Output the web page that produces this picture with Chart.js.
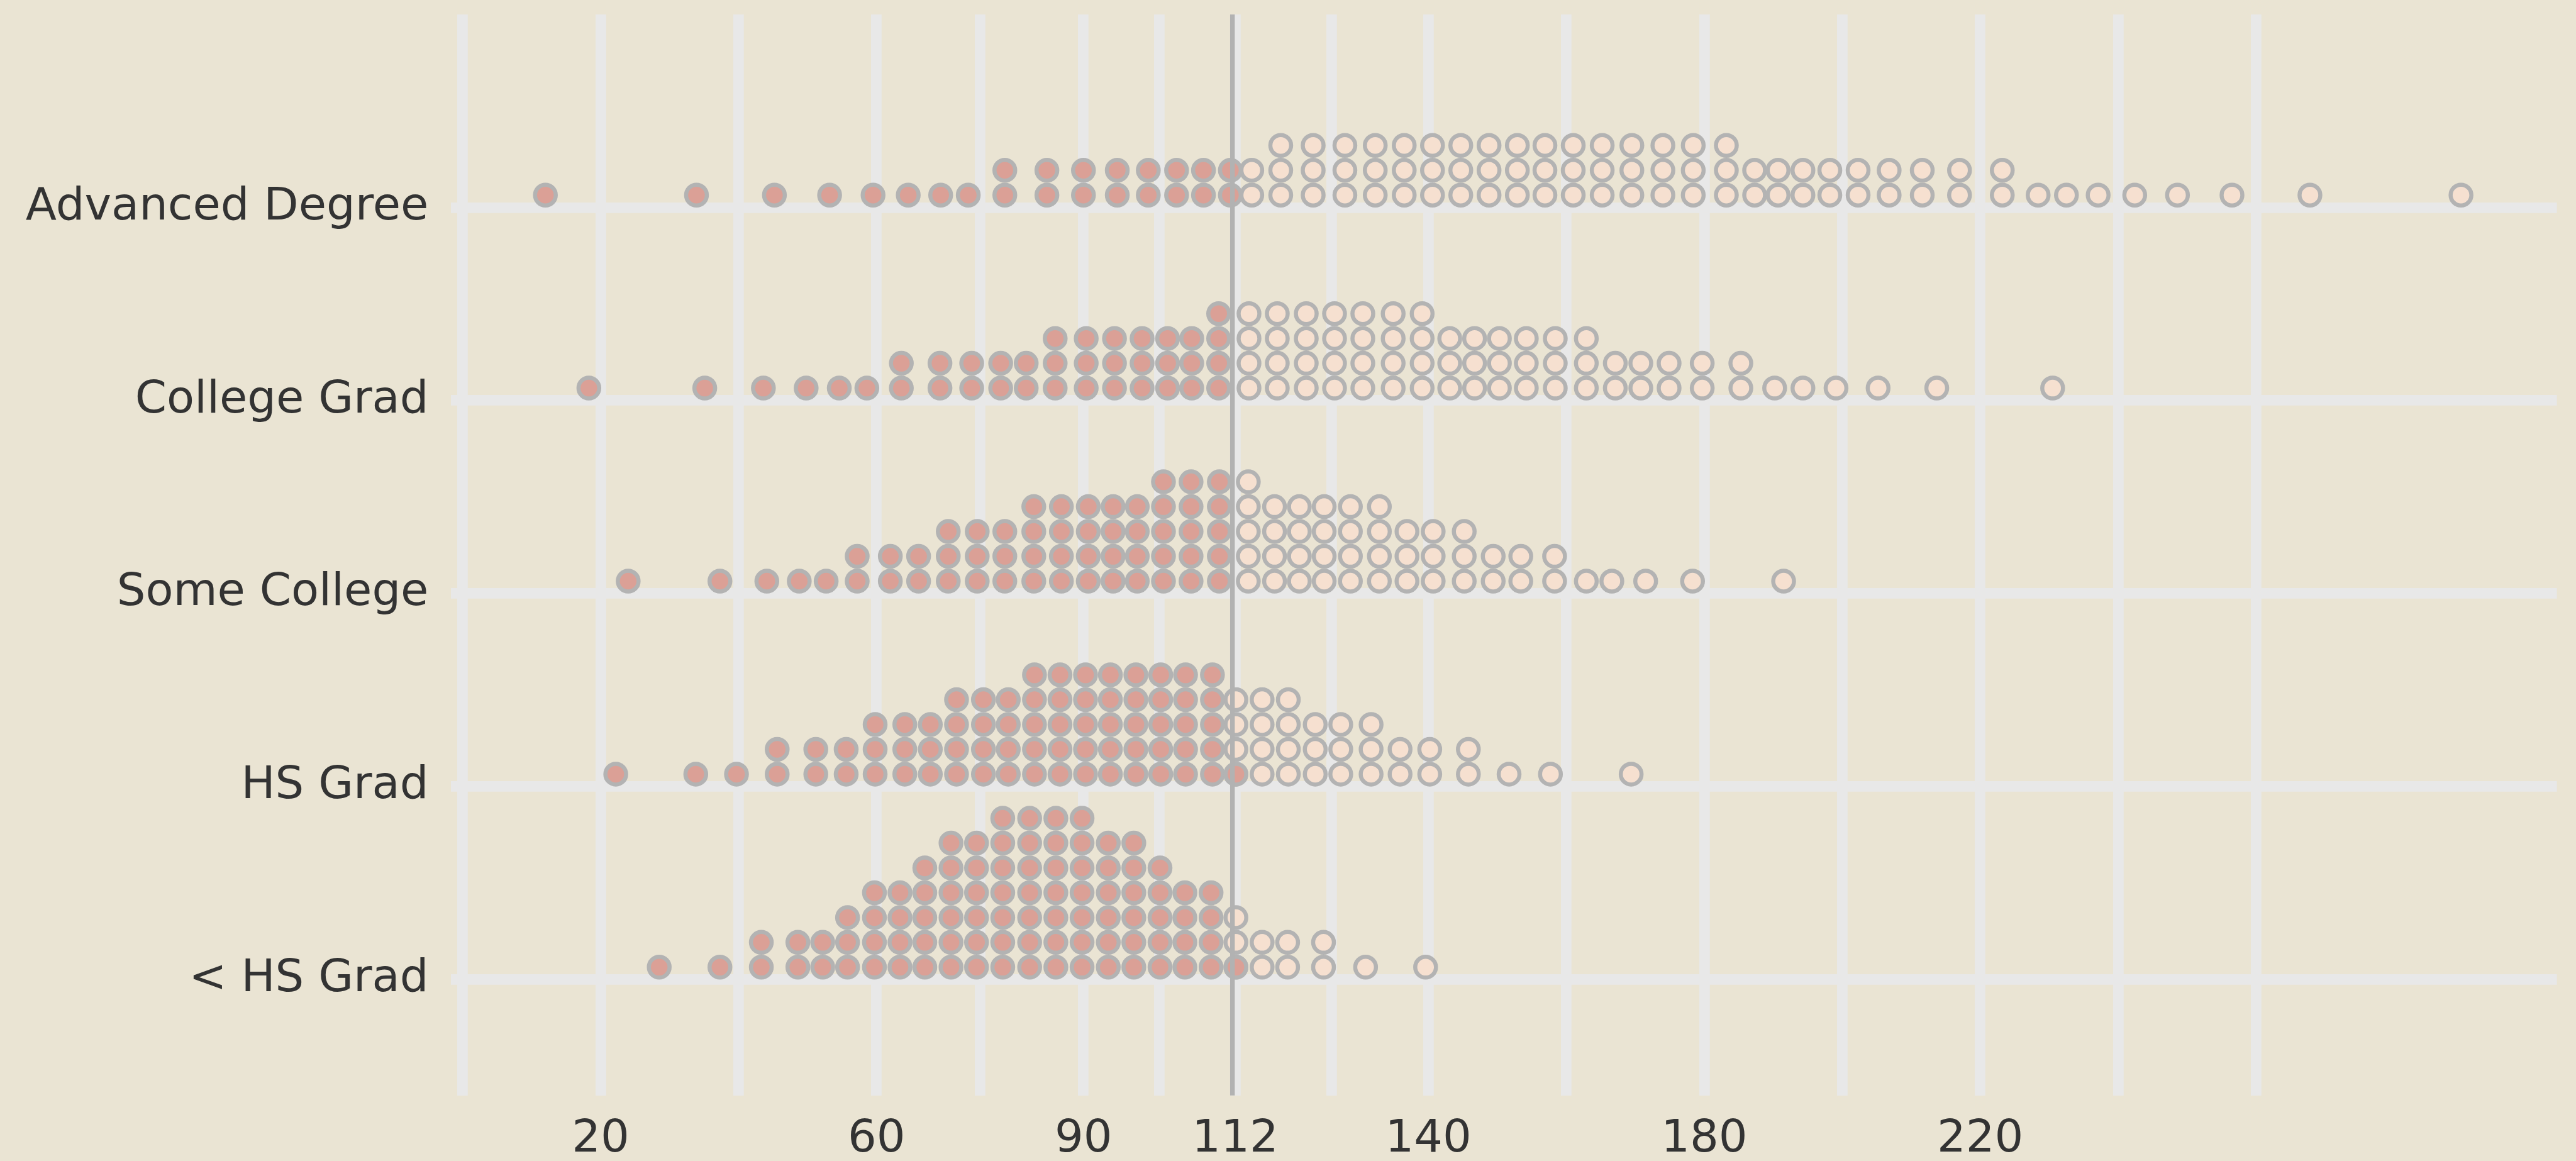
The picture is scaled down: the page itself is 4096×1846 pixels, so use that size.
<!DOCTYPE html>
<html lang="en">
<head>
    <meta charset="UTF-8">
    <title>Dot Plot by Education</title>
    <script src="https://cdn.jsdelivr.net/npm/chart.js"></script>
    <style>
        html, body { margin: 0; padding: 0; background: #EAE4D3; }
        canvas { display: block; }
    </style>
</head>
<body>
    <canvas id="dotChart" width="4096" height="1846"></canvas>

    <script>
        // Categories, bottom to top
        const categories = ['< HS Grad', 'HS Grad', 'Some College', 'College Grad', 'Advanced Degree'];

        // x axis: labelled breaks and the extra (minor) grid lines
        const xLabels = [20, 60, 90, 112, 140, 180, 220];
        const xMinor = [0, 40, 75, 101, 126, 160, 200, 240, 260];
        const cutoff = 111.6;

        // Dot stacks: bin centre (x) and number of stacked dots (n)
        // "low" = below the cutoff (salmon), "high" = above (light)
        const lessHsLowX = [28.5, 37.3, 43.3, 48.6, 52.2, 55.8, 59.7, 63.4, 67.0, 70.8, 74.5, 78.3, 82.2, 86.0, 89.8, 93.6, 97.3, 101.1, 104.7, 108.5, 112.1];
        const lessHsLowN = [1, 1, 2, 2, 2, 3, 4, 4, 5, 6, 6, 7, 7, 7, 7, 6, 6, 5, 4, 4, 1];
        const lessHsHighX = [112.1, 115.9, 119.6, 124.8, 130.9, 139.6];
        const lessHsHighN = [3, 2, 2, 2, 1, 1];

        const hsLowX = [22.2, 33.8, 39.7, 45.6, 51.2, 55.6, 59.8, 64.1, 67.8, 71.6, 75.5, 79.1, 82.9, 86.6, 90.3, 93.9, 97.6, 101.2, 104.8, 108.7, 112.1];
        const hsLowN = [1, 1, 1, 2, 2, 2, 3, 3, 3, 4, 4, 4, 5, 5, 5, 5, 5, 5, 5, 5, 1];
        const hsHighX = [112.1, 115.9, 119.7, 123.6, 127.3, 131.7, 135.9, 140.2, 145.8, 151.7, 157.7, 169.4];
        const hsHighN = [4, 4, 4, 3, 3, 3, 2, 2, 2, 1, 1, 1];

        const someLowX = [24.0, 37.3, 44.1, 48.8, 52.7, 57.2, 62.0, 66.1, 70.4, 74.6, 78.6, 82.8, 86.8, 90.7, 94.3, 97.8, 101.6, 105.6, 109.7];
        const someLowN = [1, 1, 1, 1, 1, 2, 2, 2, 3, 3, 3, 4, 4, 4, 4, 4, 5, 5, 5];
        const someHighX = [113.9, 117.7, 121.3, 124.9, 128.7, 132.9, 136.9, 140.7, 145.2, 149.4, 153.4, 158.3, 162.9, 166.6, 171.5, 178.3, 191.5];
        const someHighN = [5, 4, 4, 4, 4, 4, 3, 3, 3, 2, 2, 2, 1, 1, 1, 1, 1];

        const collegeLowX = [18.3, 35.1, 43.6, 49.8, 54.6, 58.6, 63.6, 69.2, 73.8, 78.0, 81.7, 85.9, 90.4, 94.5, 98.5, 102.2, 105.7, 109.6];
        const collegeLowN = [1, 1, 1, 1, 1, 1, 2, 2, 2, 2, 2, 3, 3, 3, 3, 3, 3, 4];
        const collegeHighX = [114.0, 118.1, 122.3, 126.4, 130.5, 134.9, 139.1, 143.1, 146.7, 150.3, 154.2, 158.4, 162.9, 167.1, 170.8, 174.9, 179.7, 185.3, 190.2, 194.3, 199.1, 205.2, 213.7, 230.5];
        const collegeHighN = [4, 4, 4, 4, 4, 4, 4, 3, 3, 3, 3, 3, 3, 2, 2, 2, 2, 2, 1, 1, 1, 1, 1, 1];

        const advLowX = [12.0, 33.9, 45.2, 53.2, 59.5, 64.6, 69.3, 73.3, 78.6, 84.7, 90.0, 94.9, 99.4, 103.5, 107.4, 111.3];
        const advLowN = [1, 1, 1, 1, 1, 1, 1, 1, 2, 2, 2, 2, 2, 2, 2, 2];
        const advHighX = [114.4, 118.6, 123.3, 127.9, 132.3, 136.5, 140.6, 144.7, 148.8, 152.9, 156.9, 161.0, 165.2, 169.5, 174.0, 178.4, 183.2, 187.3, 190.7, 194.3, 198.2, 202.3, 206.8, 211.6, 217.0, 223.2, 228.4, 232.5, 237.1, 242.4, 248.6, 256.5, 267.8, 289.7];
        const advHighN = [2, 3, 3, 3, 3, 3, 3, 3, 3, 3, 3, 3, 3, 3, 3, 3, 3, 2, 2, 2, 2, 2, 2, 2, 2, 2, 1, 1, 1, 1, 1, 1, 1, 1];

        // vertical step between stacked dots, in category units
        const stackStep = 0.1286;

        // turn (x, n) stacks into points: one point per dot
        function stackPoints(level, xs, ns) {
            const pts = [];
            xs.forEach((x, i) => {
                for (let k = 0; k < ns[i]; k++) {
                    pts.push({ x: x, y: level + (k + 0.5) * stackStep });
                }
            });
            return pts;
        }

        const lowGroups = [[lessHsLowX, lessHsLowN], [hsLowX, hsLowN], [someLowX, someLowN], [collegeLowX, collegeLowN], [advLowX, advLowN]];
        const highGroups = [[lessHsHighX, lessHsHighN], [hsHighX, hsHighN], [someHighX, someHighN], [collegeHighX, collegeHighN], [advHighX, advHighN]];

        const lowPoints = lowGroups.flatMap((g, i) => stackPoints(i + 1, g[0], g[1]));
        const highPoints = highGroups.flatMap((g, i) => stackPoints(i + 1, g[0], g[1]));

        const gridColor = '#E8E8E8';
        const textColor = '#333333';
        const labelFont = { family: 'DejaVu Sans', size: 72 };

        // reference line drawn above the dots
        const cutoffLine = {
            id: 'cutoffLine',
            afterDatasetsDraw(chart) {
                const { ctx, chartArea, scales } = chart;
                const px = scales.x.getPixelForValue(cutoff);
                ctx.save();
                ctx.strokeStyle = '#B2B2B2';
                ctx.lineWidth = 7.4;
                ctx.beginPath();
                ctx.moveTo(px, chartArea.top);
                ctx.lineTo(px, chartArea.bottom);
                ctx.stroke();
                ctx.restore();
            }
        };

        const ctx = document.getElementById('dotChart').getContext('2d');

        new Chart(ctx, {
            type: 'scatter',
            data: {
                datasets: [
                    {
                        label: 'below',
                        data: lowPoints,
                        backgroundColor: '#DBA096',
                        borderColor: '#B3B3B3',
                        borderWidth: 6.5,
                        pointRadius: 16.5
                    },
                    {
                        label: 'above',
                        data: highPoints,
                        backgroundColor: '#F6E0D0',
                        borderColor: '#B3B3B3',
                        borderWidth: 6.5,
                        pointRadius: 16.5
                    }
                ]
            },
            options: {
                responsive: false,
                animation: false,
                devicePixelRatio: 1,
                layout: { padding: { top: 15.5, right: 30.4, left: 0, bottom: 0 } },
                plugins: {
                    legend: { display: false },
                    tooltip: { enabled: false }
                },
                scales: {
                    x: {
                        type: 'linear',
                        min: -1.66,
                        max: 303.6,
                        afterBuildTicks: (s) => {
                            s.ticks = xMinor.concat(xLabels).sort((a, b) => a - b).map(v => ({ value: v }));
                        },
                        afterFit: (s) => {
                            s.height = 104.3;
                            s.paddingLeft = 0;
                            s.paddingRight = 0;
                        },
                        ticks: {
                            autoSkip: false,
                            maxRotation: 0,
                            minRotation: 0,
                            padding: 27,
                            color: textColor,
                            font: labelFont,
                            callback: (v) => xLabels.includes(v) ? String(v) : ''
                        },
                        grid: { color: gridColor, lineWidth: 16.8, drawTicks: false },
                        border: { display: false }
                    },
                    y: {
                        type: 'linear',
                        min: 0.4,
                        max: 6.0,
                        afterBuildTicks: (s) => {
                            s.ticks = categories.map((c, i) => ({ value: i + 1 }));
                        },
                        afterFit: (s) => {
                            s.width = 717.4;
                            s.paddingTop = 0;
                            s.paddingBottom = 0;
                        },
                        ticks: {
                            autoSkip: false,
                            padding: 36,
                            color: textColor,
                            font: labelFont,
                            callback: (v) => categories[v - 1]
                        },
                        grid: { color: gridColor, lineWidth: 16.8, drawTicks: false },
                        border: { display: false }
                    }
                }
            },
            plugins: [cutoffLine]
        });
    </script>
</body>
</html>
